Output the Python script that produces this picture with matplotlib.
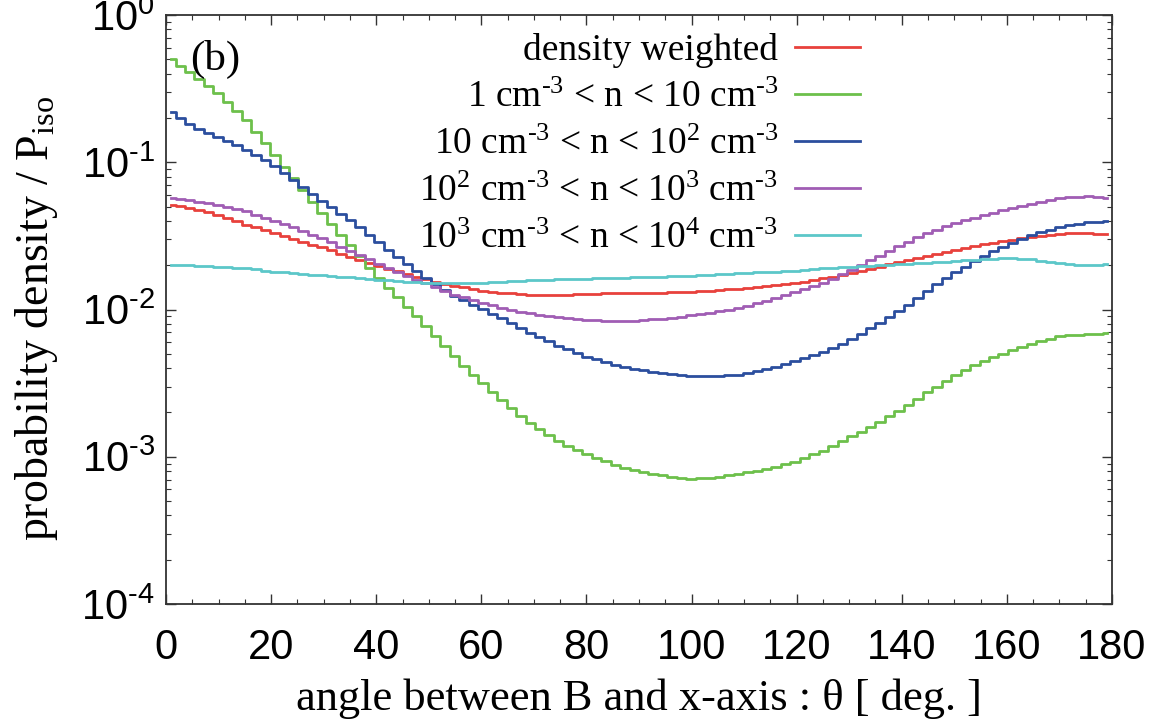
import numpy as np
import matplotlib
matplotlib.use("Agg")
import matplotlib.pyplot as plt
from matplotlib.ticker import MultipleLocator, LogLocator, FuncFormatter, NullFormatter

plt.rcParams["font.family"] = ["Liberation Serif", "DejaVu Serif"]
plt.rcParams["mathtext.fontset"] = "custom"
plt.rcParams["mathtext.rm"] = "Liberation Serif"
plt.rcParams["mathtext.it"] = "Liberation Serif:italic"
plt.rcParams["mathtext.sf"] = "Liberation Sans"
plt.rcParams["mathtext.default"] = "rm"

# ---------------------------------------------------------------------------
# Data: log10(probability density / P_iso), one value per 1.8 deg bin (0..180)
# ---------------------------------------------------------------------------
dens_weighted = [
    -1.290, -1.299, -1.308, -1.323, -1.341, -1.359, -1.380, -1.402, -1.423, -1.441,
    -1.459, -1.478, -1.500, -1.522, -1.541, -1.559, -1.577, -1.598, -1.620, -1.641,
    -1.663, -1.684, -1.705, -1.723, -1.741, -1.759, -1.777, -1.795, -1.810, -1.825,
    -1.839, -1.850, -1.861, -1.871, -1.878, -1.886, -1.891, -1.895, -1.899, -1.900,
    -1.900, -1.900, -1.899, -1.897, -1.895, -1.893, -1.891, -1.890, -1.890, -1.890,
    -1.889, -1.887, -1.885, -1.884, -1.882, -1.880, -1.877, -1.873, -1.869, -1.864,
    -1.858, -1.853, -1.848, -1.842, -1.836, -1.828, -1.821, -1.811, -1.800, -1.789,
    -1.777, -1.764, -1.751, -1.737, -1.722, -1.708, -1.693, -1.679, -1.665, -1.650,
    -1.636, -1.621, -1.607, -1.593, -1.580, -1.568, -1.556, -1.545, -1.534, -1.525,
    -1.516, -1.507, -1.499, -1.492, -1.485, -1.483, -1.481, -1.481, -1.486, -1.490,
]

n_1_10 = [
    -0.300, -0.344, -0.388, -0.434, -0.481, -0.527, -0.588, -0.651, -0.713, -0.792,
    -0.872, -0.951, -1.030, -1.109, -1.188, -1.268, -1.347, -1.420, -1.492, -1.564,
    -1.640, -1.715, -1.788, -1.853, -1.918, -1.982, -2.047, -2.112, -2.179, -2.248,
    -2.316, -2.381, -2.446, -2.500, -2.557, -2.615, -2.670, -2.720, -2.770, -2.814,
    -2.854, -2.893, -2.924, -2.953, -2.981, -3.007, -3.032, -3.055, -3.073, -3.091,
    -3.105, -3.116, -3.127, -3.135, -3.142, -3.150, -3.147, -3.143, -3.138, -3.127,
    -3.117, -3.106, -3.095, -3.084, -3.069, -3.051, -3.033, -3.009, -2.984, -2.958,
    -2.926, -2.893, -2.861, -2.829, -2.796, -2.762, -2.726, -2.690, -2.649, -2.606,
    -2.562, -2.523, -2.483, -2.445, -2.412, -2.380, -2.350, -2.325, -2.300, -2.277,
    -2.255, -2.234, -2.215, -2.197, -2.180, -2.176, -2.173, -2.169, -2.164, -2.160,
]

n_10_100 = [
    -0.660, -0.700, -0.739, -0.771, -0.800, -0.828, -0.857, -0.886, -0.916, -0.952,
    -0.988, -1.028, -1.075, -1.122, -1.169, -1.215, -1.262, -1.306, -1.349, -1.393,
    -1.443, -1.494, -1.544, -1.594, -1.645, -1.693, -1.740, -1.787, -1.829, -1.868,
    -1.908, -1.937, -1.966, -1.995, -2.028, -2.060, -2.093, -2.125, -2.157, -2.188,
    -2.216, -2.245, -2.271, -2.296, -2.321, -2.339, -2.357, -2.374, -2.388, -2.403,
    -2.414, -2.421, -2.428, -2.435, -2.442, -2.450, -2.450, -2.450, -2.449, -2.446,
    -2.442, -2.434, -2.420, -2.406, -2.389, -2.371, -2.353, -2.332, -2.310, -2.288,
    -2.260, -2.231, -2.200, -2.164, -2.128, -2.090, -2.051, -2.011, -1.966, -1.919,
    -1.873, -1.829, -1.786, -1.744, -1.708, -1.672, -1.637, -1.605, -1.573, -1.545,
    -1.519, -1.494, -1.475, -1.457, -1.439, -1.429, -1.418, -1.409, -1.404, -1.400,
]

n_100_1000 = [
    -1.245, -1.252, -1.258, -1.268, -1.279, -1.289, -1.304, -1.318, -1.334, -1.355,
    -1.377, -1.398, -1.420, -1.442, -1.465, -1.491, -1.516, -1.544, -1.573, -1.602,
    -1.630, -1.659, -1.688, -1.717, -1.746, -1.773, -1.798, -1.823, -1.848, -1.873,
    -1.899, -1.917, -1.935, -1.953, -1.971, -1.989, -2.004, -2.015, -2.026, -2.036,
    -2.045, -2.054, -2.060, -2.065, -2.070, -2.074, -2.077, -2.080, -2.078, -2.076,
    -2.072, -2.067, -2.062, -2.055, -2.048, -2.040, -2.032, -2.023, -2.013, -2.000,
    -1.988, -1.974, -1.958, -1.941, -1.923, -1.903, -1.883, -1.862, -1.840, -1.818,
    -1.790, -1.761, -1.731, -1.699, -1.666, -1.634, -1.601, -1.569, -1.539, -1.510,
    -1.482, -1.458, -1.435, -1.412, -1.394, -1.376, -1.359, -1.343, -1.326, -1.311,
    -1.297, -1.282, -1.270, -1.257, -1.245, -1.239, -1.234, -1.231, -1.236, -1.240,
]

n_1000_10000 = [
    -1.700, -1.700, -1.700, -1.703, -1.706, -1.710, -1.713, -1.717, -1.721, -1.728,
    -1.736, -1.742, -1.748, -1.753, -1.758, -1.764, -1.769, -1.773, -1.777, -1.780,
    -1.785, -1.791, -1.797, -1.802, -1.807, -1.812, -1.815, -1.819, -1.820, -1.820,
    -1.820, -1.820, -1.820, -1.819, -1.816, -1.812, -1.809, -1.805, -1.801, -1.799,
    -1.797, -1.795, -1.794, -1.792, -1.790, -1.788, -1.786, -1.785, -1.783, -1.781,
    -1.779, -1.777, -1.776, -1.774, -1.772, -1.770, -1.767, -1.763, -1.759, -1.756,
    -1.752, -1.749, -1.748, -1.746, -1.743, -1.739, -1.736, -1.731, -1.725, -1.720,
    -1.716, -1.713, -1.709, -1.705, -1.702, -1.699, -1.695, -1.691, -1.689, -1.685,
    -1.681, -1.678, -1.675, -1.670, -1.666, -1.662, -1.659, -1.655, -1.651, -1.652,
    -1.656, -1.659, -1.668, -1.676, -1.685, -1.691, -1.696, -1.699, -1.695, -1.690,
]

series = [dens_weighted, n_1_10, n_10_100, n_100_1000, n_1000_10000]
HY = "\u2010"  # short hyphen, as in the original superscripts
labels = [
    "density weighted",
    f"1 cm$^{{{HY}3}}$ < n < 10 cm$^{{{HY}3}}$",
    f"10 cm$^{{{HY}3}}$ < n < 10$^{{2}}$ cm$^{{{HY}3}}$",
    f"10$^{{2}}$ cm$^{{{HY}3}}$ < n < 10$^{{3}}$ cm$^{{{HY}3}}$",
    f"10$^{{3}}$ cm$^{{{HY}3}}$ < n < 10$^{{4}}$ cm$^{{{HY}3}}$",
]
colors = ["#E8413C", "#6DC04B", "#2B4E9E", "#A05DB4", "#5CC7C9"]

THETA_MAX = 180.0


def log_label(v, _):
    e = int(round(np.log10(v)))
    s = f"{HY}{-e}" if e < 0 else f"{e}"
    return r"$\mathsf{10^{%s}}$" % s


# ---------------------------------------------------------------------------
# Plot
# ---------------------------------------------------------------------------
fig = plt.figure(figsize=(11.71, 7.28), dpi=100)
ax = fig.add_axes([0.1418, 0.1703, 0.8078, 0.8091])

for vals, col in zip(series, colors):
    vals = np.asarray(vals)
    theta = (np.arange(len(vals)) + 0.5) * THETA_MAX / len(vals)
    ax.step(theta, 10.0 ** vals, where="mid", color=col, lw=2.0)

ax.set_yscale("log")
ax.set_xlim(0, 180)
ax.set_ylim(1e-4, 1)

ax.xaxis.set_major_locator(MultipleLocator(20))
ax.xaxis.set_minor_locator(MultipleLocator(5))
ax.yaxis.set_major_locator(LogLocator(base=10, numticks=10))
ax.yaxis.set_minor_locator(LogLocator(base=10, subs=np.arange(2, 10), numticks=10))
ax.yaxis.set_minor_formatter(NullFormatter())
ax.yaxis.set_major_formatter(FuncFormatter(log_label))

ax.tick_params(which="both", direction="in", top=True, right=True, color="#333333")
ax.tick_params(which="major", length=7, width=1.0)
ax.tick_params(which="minor", length=3.5, width=0.8)
ax.tick_params(axis="x", which="major", pad=17)
ax.tick_params(axis="y", which="major", pad=8)
for lab in ax.get_xticklabels() + ax.get_yticklabels():
    lab.set_family("Liberation Sans")
    lab.set_fontsize(30)

for sp in ax.spines.values():
    sp.set_linewidth(1.3)
    sp.set_color("#333333")

ax.set_xlabel("angle between B and x-axis : \u03b8 [ deg. ]", fontsize=32)
ax.xaxis.set_label_coords(0.5, -0.127)
ax.set_ylabel(r"probability density / P$_{\rm iso}$", fontsize=33)
ax.yaxis.set_label_coords(-0.112, 0.485)

ax.text(0.025, 0.907, "(b)", transform=ax.transAxes, fontsize=31,
        ha="left", va="baseline")

# gnuplot-style key: right-aligned labels, line sample on the right
key_y = 0.946
key_dy = 0.080
for k, (lab, col) in enumerate(zip(labels, colors)):
    y = key_y - k * key_dy
    ax.text(0.647, y - 0.022, lab, transform=ax.transAxes, fontsize=27,
            ha="right", va="baseline")
    ax.plot([0.665, 0.734], [y, y], transform=ax.transAxes, color=col, lw=2.0)

fig.savefig("out.png", dpi=100)
